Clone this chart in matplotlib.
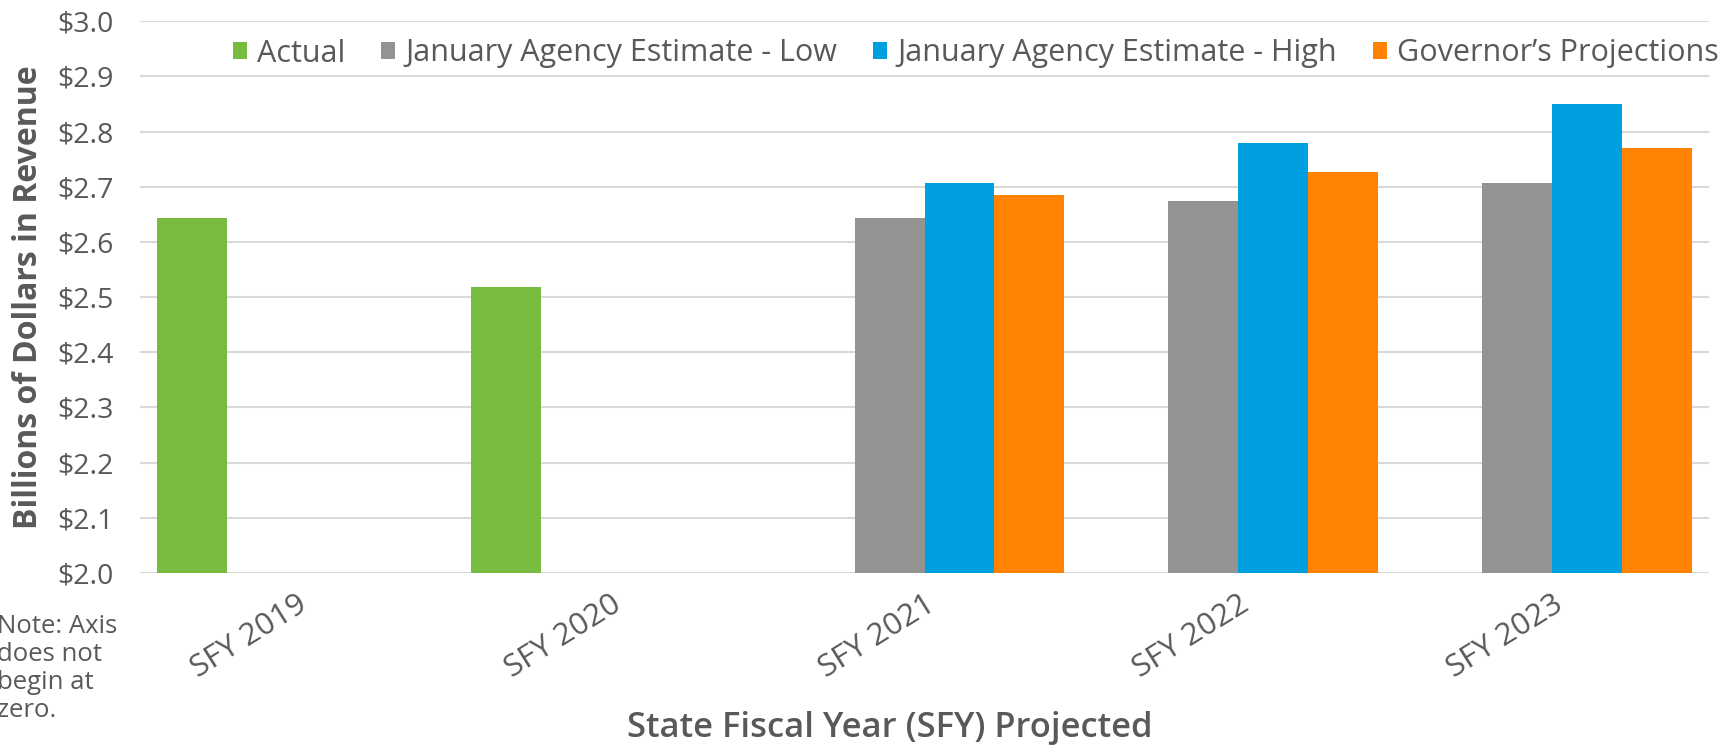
import numpy as np
import matplotlib
matplotlib.use("Agg")
import matplotlib.pyplot as plt
from matplotlib.patches import Patch

# ---- data ----
categories = ["SFY 2019", "SFY 2020", "SFY 2021", "SFY 2022", "SFY 2023"]
series_names = ["Actual", "January Agency Estimate - Low",
                "January Agency Estimate - High", "Governor\u2019s Projections"]
actual = [2.644, 2.519, np.nan, np.nan, np.nan]
agency_low = [np.nan, np.nan, 2.644, 2.675, 2.707]
agency_high = [np.nan, np.nan, 2.707, 2.779, 2.850]
governor = [np.nan, np.nan, 2.686, 2.726, 2.770]
y_ticks = [2.0, 2.1, 2.2, 2.3, 2.4, 2.5, 2.6, 2.7, 2.8, 2.9, 3.0]
y_tick_labels = ["$2.0", "$2.1", "$2.2", "$2.3", "$2.4", "$2.5",
                 "$2.6", "$2.7", "$2.8", "$2.9", "$3.0"]

colors = ["#77BB41", "#939393", "#009FDF", "#FF8300"]
text_color = "#595959"

plt.rcParams["font.family"] = ["Open Sans", "DejaVu Sans"]

W, H = 1736, 745
fig = plt.figure(figsize=(W / 100, H / 100), dpi=100)
ax = fig.add_axes([140 / W, 1 - 573 / H, (1709 - 140) / W, (573 - 21.3) / H])

x = np.arange(len(categories))
bar_w = 0.223
all_series = [actual, agency_low, agency_high, governor]
for i, (vals, c) in enumerate(zip(all_series, colors)):
    ax.bar(x + (i - 1.5) * bar_w, np.array(vals) - 2.0, bottom=2.0,
           width=bar_w, color=c, linewidth=0, zorder=3)

ax.set_xlim(-0.5, len(categories) - 0.5)
ax.set_ylim(2.0, 3.0)
ax.set_yticks(y_ticks)
ax.set_yticklabels(y_tick_labels)
ax.yaxis.grid(True, color="#D9D9D9", linewidth=1.5, zorder=0)
ax.set_axisbelow(True)
for s in ax.spines.values():
    s.set_visible(False)
ax.tick_params(axis="y", length=0, pad=19, labelsize=20.5, labelcolor=text_color)
ax.set_xticks(x)
ax.set_xticklabels(categories, rotation=32, ha="right", va="top",
                   rotation_mode="anchor")
ax.tick_params(axis="x", length=0, pad=12, labelsize=22.5, labelcolor=text_color)

handles = [Patch(facecolor=c, edgecolor="none") for c in colors]
fs = 22.0
em = fs * 100 / 72
leg = fig.legend(handles, series_names, loc="center left",
                 bbox_to_anchor=(233 / W, 1 - 53.5 / H), ncol=4, frameon=False,
                 fontsize=fs, handlelength=14 / em, handleheight=14 / em,
                 handletextpad=10 / em, columnspacing=36 / em, borderpad=0,
                 borderaxespad=0)
for t in leg.get_texts():
    t.set_color(text_color)

fig.text(29 / W, 1 - 297 / H, "Billions of Dollars in Revenue", rotation=90,
         ha="center", va="center", fontsize=23, fontweight="bold",
         color=text_color)
fig.text(890 / W, 1 - 728 / H, "State Fiscal Year (SFY) Projected",
         ha="center", va="center", fontsize=24.8, fontweight="semibold",
         color=text_color)
fig.text(-3 / W, 1 - 614 / H, "Note: Axis\ndoes not\nbegin at\nzero.",
         ha="left", va="top", fontsize=18.5, color=text_color, linespacing=1.15)

fig.savefig("out.png", dpi=100, facecolor="white")
